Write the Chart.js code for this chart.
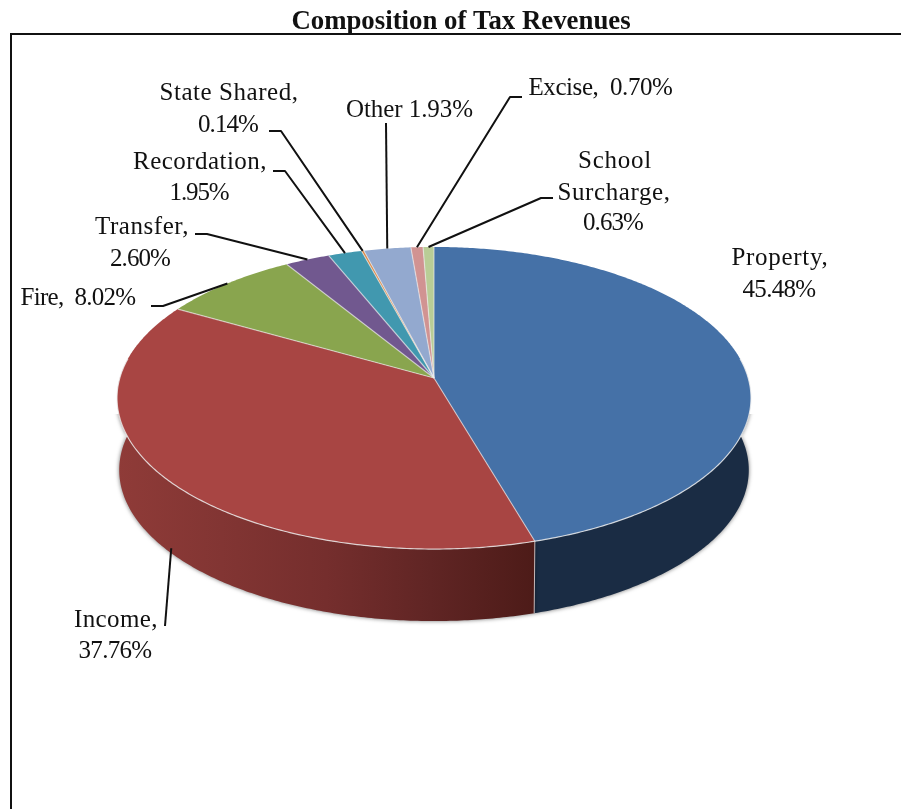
<!DOCTYPE html>
<html>
<head>
<meta charset="utf-8">
<title>Composition of Tax Revenues</title>
<script src="https://cdn.jsdelivr.net/npm/chart.js@4"></script>
<style>
html,body{margin:0;padding:0;background:#fff;overflow:hidden}
canvas{display:block;filter:blur(0.35px)}
</style>
</head>
<body>
<canvas id="c" width="901" height="809"></canvas>
<script>
// ---- data ----
const categories = ["Property","Income","Fire","Transfer","Recordation","State Shared","Other","Excise","School Surcharge"];
// Slice sizes. The printed "Other" label says 1.93%, but its slice is drawn at about 2.72%.
const shares = [45.48,37.76,8.02,2.60,1.95,0.14,2.72,0.70,0.63];
const labelLines = [
  ["Property,","45.48%"],["Income,","37.76%"],["Fire,  8.02%"],["Transfer,","2.60%"],
  ["Recordation,","1.95%"],["State Shared,","0.14%"],["Other 1.93%"],["Excise,  0.70%"],
  ["School","Surcharge,","0.63%"]
];
const chartTitle = "Composition of Tax Revenues";

// ---- styling ----
const sliceColors = ["#4571A7","#A84543","#89A54E","#71588F","#4198AF","#DB843D","#93A9CF","#D19392","#B9CD96"];
const wallShades = {0:["#1a2c44","#1a2c44"],1:["#8f3b38","#823533","#752e2d","#602524","#4d1b18"]};
const textFont = '25px "Liberation Serif"';

// ---- layout: per-line centre, baseline and drawn width of the label text ----
const labelLayout = [
  [[780,265,97],[779,297,73]],
  [[116,627,84],[115,658,73]],
  [[78,305,115]],
  [[142,234,94],[140,266,60]],
  [[200,169,134],[199,200,59]],
  [[229,100,139],[228,132,60]],
  [[409.5,117,127]],
  [[600.5,95,144]],
  [[615,168,74],[614,200,113],[613,230,60]]
];
const leaderLayout = [
  null,
  {pts:[[165,626]],wall:true,nudge:[4,-2]},
  {pts:[[151,306],[163,306]]},
  {pts:[[195,234],[207,234]]},
  {pts:[[273,171],[285,171]]},
  {pts:[[269,131],[281,131]]},
  {pts:[[386,123]]},
  {pts:[[522,97],[510,97]]},
  {pts:[[553,198],[541,198]]}
];
// perspective of the tilted disc: (cos a, sin a) -> page
const disc = {cx:434,cy:378,a:314.2,b:148.4,k:0.1325,depth:72,shrink:0.993,wallTop:414};
function rim(angle){
  const u=Math.cos(angle), v=Math.sin(angle), w=1-disc.k*v;
  return [disc.cx+disc.a*u/w, disc.cy+disc.b*v/w];
}
function under(p){ return [disc.cx+(p[0]-disc.cx)*disc.shrink, p[1]+disc.depth]; }
function sweep(s,e){
  const n=Math.max(2,Math.ceil((e-s)/0.01)), out=[];
  for(let i=0;i<=n;i++) out.push(s+(e-s)*i/n);
  return out;
}
const silhouetteA=-Math.asin(disc.k), silhouetteB=Math.PI+Math.asin(disc.k);

const discPlugin = {
  id:'disc3d',
  beforeDraw(chart){
    const c=chart.ctx;
    c.save();
    c.fillStyle='#fff'; c.fillRect(0,0,chart.width,chart.height);
    c.strokeStyle='#111'; c.lineWidth=2;
    c.beginPath(); c.moveTo(11,chart.height); c.lineTo(11,34); c.lineTo(chart.width,34); c.stroke();
    c.restore();
  },
  beforeDatasetDraw(chart,args){
    const c=chart.ctx, arcs=args.meta.data;
    c.save();
    // side wall
    arcs.forEach((arc,i)=>{
      const s=Math.max(arc.startAngle,silhouetteA), e=Math.min(arc.endAngle,silhouetteB);
      if(e<=s) return;
      const top=sweep(s,e).map(rim), bot=top.map(under);
      const xs=top.map(p=>p[0]);
      const g=c.createLinearGradient(Math.min(...xs),0,Math.max(...xs),0);
      const shades=wallShades[i]||[sliceColors[i],sliceColors[i]];
      shades.forEach((col,j)=>g.addColorStop(j/(shades.length-1),col));
      c.save();
      c.beginPath(); c.rect(0,disc.wallTop,chart.width,chart.height); c.clip();
      c.shadowColor='rgba(0,0,0,0.55)'; c.shadowBlur=4;
      c.fillStyle=g;
      c.beginPath();
      top.forEach((p,j)=>j?c.lineTo(p[0],p[1]):c.moveTo(p[0],p[1]));
      bot.reverse().forEach(p=>c.lineTo(p[0],p[1]));
      c.closePath(); c.fill();
      c.restore();
    });
    // wall seam
    arcs.forEach(arc=>{
      const a=arc.endAngle;
      if(a>silhouetteA && a<silhouetteB){
        const p=rim(a), q=under(p);
        c.strokeStyle='rgba(235,225,225,0.75)'; c.lineWidth=1;
        c.beginPath(); c.moveTo(p[0],p[1]); c.lineTo(q[0],q[1]); c.stroke();
      }
    });
    // top face
    arcs.forEach((arc,i)=>{
      const pts=sweep(arc.startAngle,arc.endAngle).map(rim);
      c.beginPath();
      c.moveTo(disc.cx,disc.cy);
      pts.forEach(p=>c.lineTo(p[0],p[1]));
      c.closePath();
      c.fillStyle=arc.options.backgroundColor;
      c.fill();
    });
    // light edges between the slices and along the front rim
    c.strokeStyle='rgba(238,238,238,0.62)'; c.lineWidth=1.2;
    arcs.forEach(arc=>{
      const p=rim(arc.endAngle);
      c.beginPath(); c.moveTo(disc.cx,disc.cy); c.lineTo(p[0],p[1]); c.stroke();
    });
    c.strokeStyle='rgba(240,240,240,0.8)'; c.lineWidth=1.2;
    c.beginPath();
    sweep(silhouetteA,silhouetteB).map(rim).forEach((p,j)=>j?c.lineTo(p[0],p[1]):c.moveTo(p[0],p[1]));
    c.stroke();
    c.restore();
    return false;
  },
  afterDraw(chart){
    const c=chart.ctx, arcs=chart.getDatasetMeta(0).data;
    c.save();
    c.strokeStyle='#111'; c.lineWidth=2; c.lineJoin='round';
    leaderLayout.forEach((l,i)=>{
      if(!l) return;
      const arc=arcs[i], mid=(arc.startAngle+arc.endAngle)/2;
      let end=rim(mid);
      if(l.wall) end=under(end);
      if(l.nudge) end=[end[0]+l.nudge[0],end[1]+l.nudge[1]];
      c.beginPath();
      l.pts.forEach((p,j)=>j?c.lineTo(p[0],p[1]):c.moveTo(p[0],p[1]));
      c.lineTo(end[0],end[1]);
      c.stroke();
    });
    c.fillStyle='#111'; c.font=textFont; c.textAlign='center'; c.textBaseline='alphabetic';
    labelLines.forEach((lines,i)=>{
      lines.forEach((t,j)=>{
        const [x,y,w]=labelLayout[i][j];
        c.letterSpacing='0px';
        const extra=(w-c.measureText(t).width)/t.length;
        c.letterSpacing=extra.toFixed(2)+'px';
        c.fillText(t,x,y);
      });
    });
    c.restore();
  }
};

new Chart(document.getElementById('c'),{
  type:'pie',
  data:{labels:categories,datasets:[{data:shares,backgroundColor:sliceColors,borderWidth:0}]},
  options:{
    responsive:false,animation:false,rotation:0,
    layout:{padding:{left:21,top:0}},
    plugins:{
      legend:{display:false},tooltip:{enabled:false},
      title:{display:true,text:chartTitle,color:'#111',
        font:{family:'"Liberation Serif"',size:26.8,weight:'bold'},
        padding:{top:6,bottom:0}}
    }
  },
  plugins:[discPlugin]
});
</script>
</body>
</html>
